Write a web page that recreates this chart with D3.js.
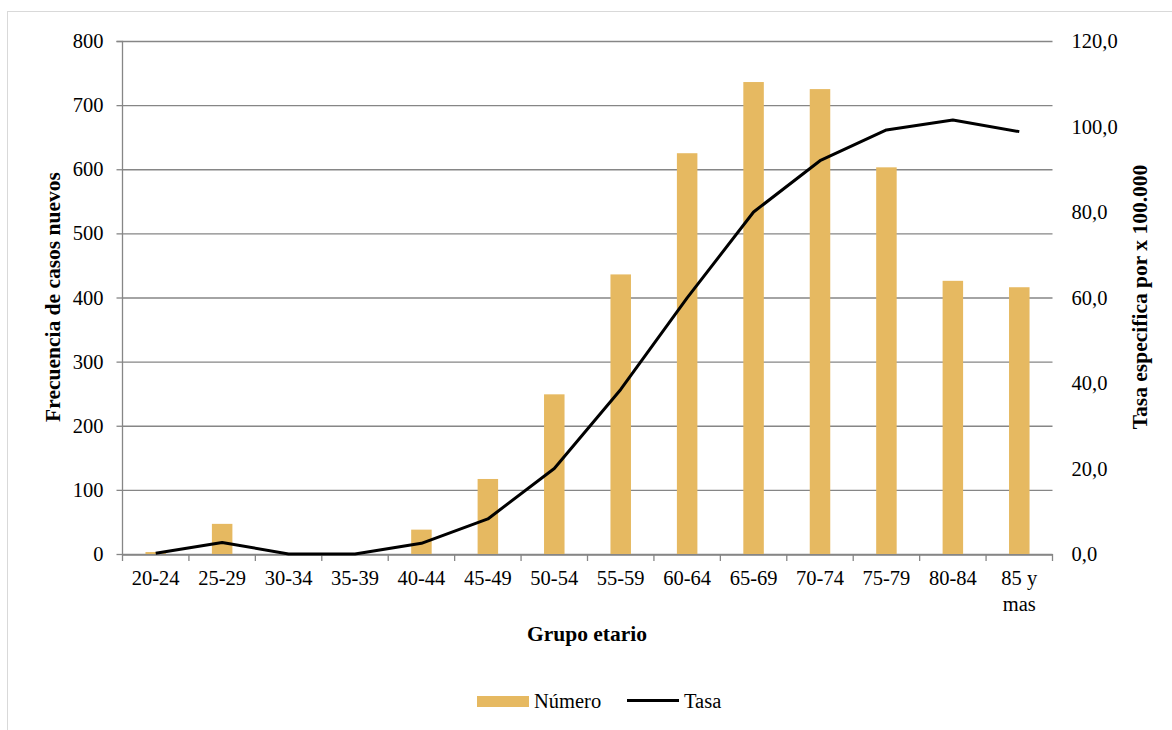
<!DOCTYPE html>
<html><head><meta charset="utf-8">
<script src="https://cdn.jsdelivr.net/npm/d3@7"></script>
<style>body{margin:0;background:#fff}svg{display:block}</style>
</head><body><svg id="c" width="1172" height="730"></svg>
<script>
const categories = ["20-24","25-29","30-34","35-39","40-44","45-49","50-54","55-59","60-64","65-69","70-74","75-79","80-84","85 y mas"];
const numero = [3,47,0,0,38,117,249,436,625,736,725,603,426,416];
const tasa = [0.2,2.7,0,0,2.5,8.2,20.0,38.5,59.9,80.0,92.0,99.2,101.5,98.8];
const leftTicks = [0,100,200,300,400,500,600,700,800];
const rightTicks = [0,20,40,60,80,100,120];

const svg = d3.select("#c");
const font = "'Liberation Serif','Times New Roman',serif";
const fs = 20.5, tfs = 21.5;
const m = {l:122.5, r:1052.5, t:41, b:554};

svg.append("rect").attr("x",7.5).attr("y",11.5).attr("width",1180).attr("height",740)
  .attr("fill","#fff").attr("stroke","#d9d9d9");

const x = d3.scaleBand().domain(categories).range([m.l,m.r]).paddingInner(0).paddingOuter(0);
const yL = d3.scaleLinear().domain([0,800]).range([m.b,m.t]);
const yR = d3.scaleLinear().domain([0,120]).range([m.b,m.t]);

// gridlines
svg.append("g").selectAll("line").data(leftTicks).join("line")
  .attr("x1",m.l).attr("x2",m.r).attr("y1",d=>yL(d)+0.5).attr("y2",d=>yL(d)+0.5)
  .attr("stroke","#868686").attr("stroke-width",1.3);

// left axis
const gl = svg.append("g").attr("transform",`translate(${m.l},0)`)
  .call(d3.axisLeft(yL).tickValues(leftTicks).tickSize(6).tickPadding(13).tickFormat(d3.format("d")));
gl.select(".domain").attr("stroke","#868686").attr("stroke-width",1.3).attr("d",`M-6,${m.t+0.5}H0V${m.b+0.5}`);
gl.selectAll(".tick line").attr("stroke","#868686").attr("stroke-width",1.3);
gl.selectAll(".tick text").attr("font-family",font).attr("font-size",fs).attr("fill","#000");

// right axis labels
const gr = svg.append("g").attr("transform",`translate(${m.r},0)`)
  .call(d3.axisRight(yR).tickValues(rightTicks).tickSize(0).tickPadding(19).tickFormat(d=>d.toFixed(1).replace(".",",")));
gr.select(".domain").remove();
gr.selectAll(".tick text").attr("font-family",font).attr("font-size",fs).attr("fill","#000");

// bars
const bw = 20.5;
svg.append("g").selectAll("rect").data(numero).join("rect")
  .attr("x",(d,i)=>x(categories[i])+x.bandwidth()/2-bw/2)
  .attr("width",bw)
  .attr("y",d=>yL(d)).attr("height",d=>m.b-yL(d))
  .attr("fill","#E6B961");

// bottom axis
const gb = svg.append("g").attr("transform",`translate(0,${m.b+0.5})`)
  .call(d3.axisBottom(x).tickSize(0).tickFormat(""));
gb.select(".domain").attr("stroke","#868686").attr("stroke-width",1.3);
gb.selectAll(".tick").remove();
svg.append("g").selectAll("line").data(d3.range(categories.length+1)).join("line")
  .attr("x1",i=>m.l+i*x.step()).attr("x2",i=>m.l+i*x.step())
  .attr("y1",m.b).attr("y2",m.b+7).attr("stroke","#868686").attr("stroke-width",1.3);
const lbl = svg.append("g").selectAll("text").data(categories).join("text")
  .attr("font-family",font).attr("font-size",fs).attr("fill","#000").attr("text-anchor","middle")
  .attr("x",d=>x(d)+x.bandwidth()/2).attr("y",585);
lbl.each(function(d){
  const parts = d==="85 y mas" ? ["85 y","mas"] : [d];
  const t = d3.select(this);
  parts.forEach((p,k)=>t.append("tspan").attr("x",x(d)+x.bandwidth()/2).attr("dy",k?25.5:0).text(p));
});

// line
const line = d3.line().x((d,i)=>x(categories[i])+x.bandwidth()/2).y(d=>yR(d));
svg.append("path").datum(tasa).attr("d",line).attr("fill","none")
  .attr("stroke","#000").attr("stroke-width",3).attr("stroke-linejoin","round");

// titles
svg.append("text").attr("transform",`translate(60,297) rotate(-90)`).attr("text-anchor","middle")
  .attr("font-family",font).attr("font-size",tfs).attr("font-weight","bold").text("Frecuencia de casos nuevos");
svg.append("text").attr("transform",`translate(1147,297) rotate(-90)`).attr("text-anchor","middle")
  .attr("font-family",font).attr("font-size",tfs).attr("font-weight","bold").text("Tasa especifica por x 100.000");
svg.append("text").attr("x",587).attr("y",641).attr("text-anchor","middle")
  .attr("font-family",font).attr("font-size",tfs).attr("font-weight","bold").text("Grupo etario");

// legend
const lg = svg.append("g");
lg.append("rect").attr("x",477).attr("y",696).attr("width",52).attr("height",11).attr("fill","#E6B961");
lg.append("text").attr("x",534).attr("y",707.5).attr("font-family",font).attr("font-size",fs).text("Número");
lg.append("line").attr("x1",627).attr("x2",679).attr("y1",700.5).attr("y2",700.5).attr("stroke","#000").attr("stroke-width",3);
lg.append("text").attr("x",684).attr("y",707.5).attr("font-family",font).attr("font-size",fs).text("Tasa");
</script></body></html>
